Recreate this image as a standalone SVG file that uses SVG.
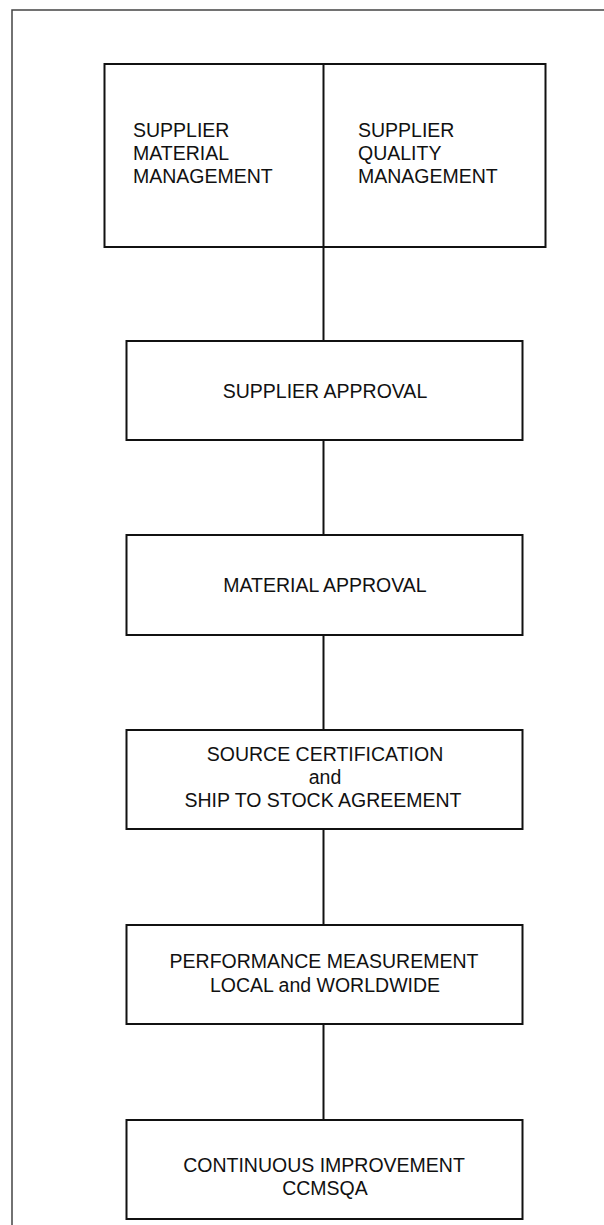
<svg xmlns="http://www.w3.org/2000/svg" width="604" height="1225" viewBox="0 0 604 1225">
<style>
.box{fill:#fff;stroke:#111;stroke-width:2}
.frame{fill:none;stroke:#444;stroke-width:1.5}
.conn{stroke:#111;stroke-width:2;fill:none}
text{font-family:"Liberation Sans",Arial,sans-serif;font-size:19.5px;fill:#111}
.c{text-anchor:middle}
</style>
<rect width="604" height="1225" fill="#fff"/>
<path class="frame" d="M12 1225 V10 H604"/>
<g id="connectors">
<line class="conn" x1="323.5" y1="247" x2="323.5" y2="341"/>
<line class="conn" x1="323.5" y1="440" x2="323.5" y2="535"/>
<line class="conn" x1="323.5" y1="635" x2="323.5" y2="730"/>
<line class="conn" x1="323.5" y1="829" x2="323.5" y2="925"/>
<line class="conn" x1="323.5" y1="1024" x2="323.5" y2="1120"/>
</g>
<g id="top">
<rect class="box" x="104.5" y="64" width="441" height="183"/>
<line class="conn" x1="323.5" y1="64" x2="323.5" y2="247"/>
<text x="133" y="137">SUPPLIER</text>
<text x="133" y="160">MATERIAL</text>
<text x="133" y="183">MANAGEMENT</text>
<text x="358" y="137">SUPPLIER</text>
<text x="358" y="160">QUALITY</text>
<text x="358" y="183">MANAGEMENT</text>
</g>
<g id="supplier-approval">
<rect class="box" x="126.5" y="341" width="396" height="99"/>
<text class="c" x="325" y="398">SUPPLIER APPROVAL</text>
</g>
<g id="material-approval">
<rect class="box" x="126.5" y="535" width="396" height="100"/>
<text class="c" x="325" y="592">MATERIAL APPROVAL</text>
</g>
<g id="source-cert">
<rect class="box" x="126.5" y="730" width="396" height="99"/>
<text class="c" x="325" y="761">SOURCE CERTIFICATION</text>
<text class="c" x="325" y="784">and</text>
<text class="c" x="323" y="807">SHIP TO STOCK AGREEMENT</text>
</g>
<g id="performance">
<rect class="box" x="126.5" y="925" width="396" height="99"/>
<text class="c" x="324" y="968">PERFORMANCE MEASUREMENT</text>
<text class="c" x="325" y="992">LOCAL and WORLDWIDE</text>
</g>
<g id="continuous">
<rect class="box" x="126.5" y="1120" width="396" height="99"/>
<text class="c" x="324" y="1172">CONTINUOUS IMPROVEMENT</text>
<text class="c" x="325" y="1195">CCMSQA</text>
</g>
</svg>
